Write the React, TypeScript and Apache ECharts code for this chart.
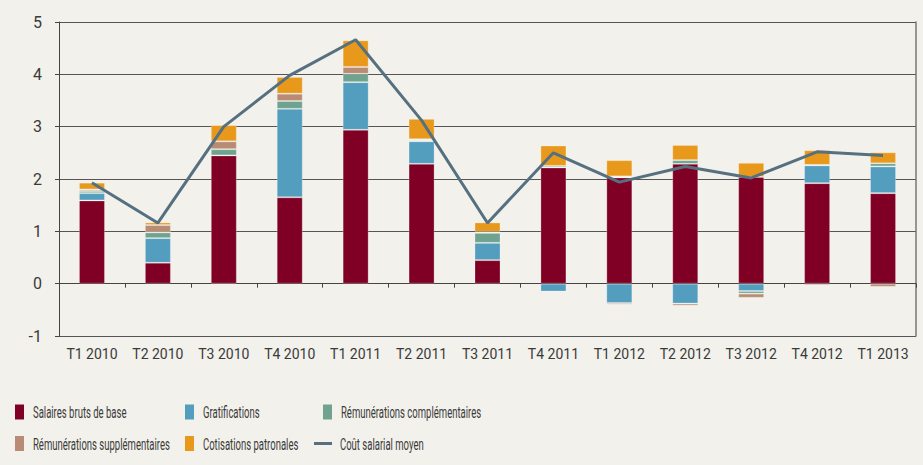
import React, { useEffect, useRef } from "react";
import * as echarts from "echarts";

const categories = ["T1 2010", "T2 2010", "T3 2010", "T4 2010", "T1 2011", "T2 2011", "T3 2011", "T4 2011", "T1 2012", "T2 2012", "T3 2012", "T4 2012", "T1 2013"];
const salairesBase = [1.59, 0.40, 2.45, 1.65, 2.94, 2.29, 0.45, 2.22, 2.03, 2.29, 2.04, 1.92, 1.73];
const gratifications = [0.14, 0.47, -0.02, 1.69, 0.91, 0.43, 0.33, -0.15, -0.37, -0.38, -0.14, 0.34, 0.51];
const remComplementaires = [0.04, 0.11, 0.12, 0.15, 0.16, 0.02, 0.19, 0.03, 0.02, 0.07, -0.05, 0.01, 0.06];
const remSupplementaires = [0.03, 0.14, 0.15, 0.14, 0.13, 0.02, 0.02, -0.02, -0.03, -0.04, -0.08, -0.03, -0.06];
const cotisations = [0.13, 0.05, 0.31, 0.32, 0.51, 0.39, 0.18, 0.39, 0.31, 0.29, 0.27, 0.28, 0.21];
const coutSalarial = [1.93, 1.16, 3.0, 3.98, 4.66, 3.12, 1.16, 2.5, 1.94, 2.24, 2.02, 2.52, 2.45];
const yTicks = [-1, 0, 1, 2, 3, 4, 5];

const FONT = "Roboto, sans-serif";
const TEXT = "#3a3a3a";

const barNames = ["Salaires bruts de base", "Gratifications", "Rémunérations complémentaires", "Rémunérations supplémentaires", "Cotisations patronales"];
const barData = [salairesBase, gratifications, remComplementaires, remSupplementaires, cotisations];
const barColors = ["#7F0024", "#539DBF", "#6FA38F", "#B98B74", "#E8991C"];
const lineName = "Coût salarial moyen";
const lineColor = "#56707F";

export default function App() {
  const ref = useRef<HTMLDivElement>(null);
  useEffect(() => {
    if (!ref.current) return;
    const chart = echarts.init(ref.current, null, { renderer: "svg" });
    const legendPos = [
      { x: 15, y: 412 },
      { x: 185, y: 412 },
      { x: 323, y: 412 },
      { x: 15, y: 443.5 },
      { x: 185, y: 443.5 },
      { x: 314, y: 443.5 },
    ];
    const allNames = [...barNames, lineName];
    const allColors = [...barColors, lineColor];
    const graphic: any[] = [];
    allNames.forEach((n, i) => {
      const p = legendPos[i];
      if (i === 5) {
        graphic.push({ type: "rect", shape: { x: p.x, y: p.y - 1.5, width: 18, height: 3 }, style: { fill: allColors[i] }, silent: true });
      } else {
        graphic.push({ type: "rect", shape: { x: p.x, y: p.y - 7.5, width: 9, height: 15 }, style: { fill: allColors[i] }, silent: true });
      }
      graphic.push({
        type: "text",
        x: i === 5 ? 340 : p.x + 18,
        y: p.y,
        scaleX: 0.56,
        style: { text: n, x: 0, y: 0, fill: TEXT, font: `17px ${FONT}`, textVerticalAlign: "middle", textAlign: "left" },
        silent: true,
      });
    });
    const series: any[] = barNames.map((n, i) => ({
      name: n,
      type: "bar",
      stack: "total",
      barWidth: 26,
      data: barData[i],
      itemStyle: { color: barColors[i], borderColor: "rgba(255,255,255,0.25)", borderWidth: 1 },
    }));
    series.push({
      name: lineName,
      type: "line",
      data: coutSalarial,
      symbol: "none",
      lineStyle: { color: lineColor, width: 3 },
      itemStyle: { color: lineColor },
      z: 5,
    });
    chart.setOption({
      animation: false,
      backgroundColor: "#F2F1EB",
      textStyle: { fontFamily: FONT },
      graphic,
      grid: { left: 59, right: 7, top: 22, bottom: 129, containLabel: false },
      xAxis: {
        type: "category",
        data: categories,
        axisLine: { show: true, lineStyle: { color: "#444", width: 1 } },
        axisTick: { show: true, length: 4, alignWithLabel: false, lineStyle: { color: "#444" } },
        axisLabel: { fontFamily: FONT, fontSize: 14, color: TEXT, margin: 11, interval: 0 },
        splitLine: { show: false },
      },
      yAxis: [
        {
          type: "value",
          min: yTicks[0],
          max: yTicks[yTicks.length - 1],
          interval: 1,
          axisLine: { show: true, lineStyle: { color: "#444", width: 1 } },
          axisTick: { show: true, length: 4, lineStyle: { color: "#444" } },
          axisLabel: { fontFamily: FONT, fontSize: 16, color: TEXT, margin: 17 },
          splitLine: { show: true, lineStyle: { color: "#555", width: 1 } },
        },
        {
          type: "value",
          position: "right",
          min: yTicks[0],
          max: yTicks[yTicks.length - 1],
          interval: 1,
          axisLine: { show: true, lineStyle: { color: "#777", width: 1.5 } },
          axisTick: { show: false },
          axisLabel: { show: false },
          splitLine: { show: false },
        },
      ],
      series,
    });
    return () => chart.dispose();
  }, []);
  return <div ref={ref} style={{ width: 923, height: 465, position: "absolute", left: 0, top: 0 }} />;
}
